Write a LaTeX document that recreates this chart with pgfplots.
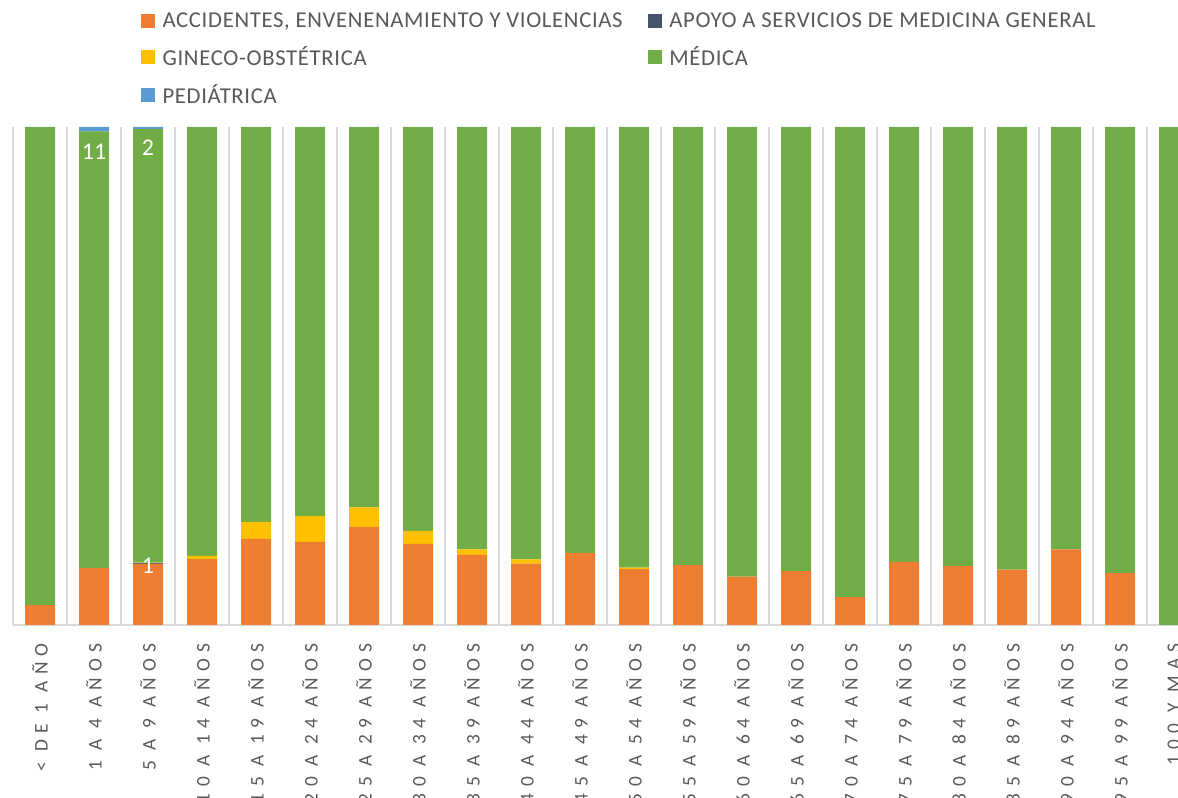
\documentclass[border=0pt]{standalone}
\usepackage{pgfplots}
\usepackage{pgfplotstable}
\pgfplotsset{compat=1.18}
\usepackage{fontspec}
\setmainfont{Carlito}
\newfontfamily\spaced[LetterSpace=33]{Carlito}
\newfontfamily\legfont[LetterSpace=3]{Carlito}
\definecolor{cacc}{HTML}{ED7D31}
\definecolor{capo}{HTML}{44546A}
\definecolor{cgin}{HTML}{FFC000}
\definecolor{cmed}{HTML}{70AD47}
\definecolor{cped}{HTML}{5B9BD5}
\definecolor{cgrid}{HTML}{D9D9D9}
\definecolor{ctxt}{HTML}{595959}
\pgfplotstableread{
x O A G M P
0 0.040 0 0 0.960 0
1 0.114 0 0 0.877 0.009
2 0.123 0.002 0 0.871 0.004
3 0.133 0 0.006 0.861 0
4 0.173 0 0.034 0.793 0
5 0.167 0 0.052 0.781 0
6 0.197 0 0.039 0.764 0
7 0.163 0 0.026 0.811 0
8 0.141 0 0.011 0.848 0
9 0.123 0 0.009 0.868 0
10 0.145 0 0 0.855 0
11 0.112 0 0.003 0.885 0
12 0.120 0 0 0.880 0
13 0.097 0 0 0.903 0
14 0.108 0 0 0.892 0
15 0.056 0 0 0.944 0
16 0.127 0 0 0.873 0
17 0.118 0 0 0.882 0
18 0.111 0 0 0.889 0
19 0.152 0 0 0.848 0
20 0.104 0 0 0.896 0
21 0 0 0 1.000 0
}\data
\begin{document}
\begin{tikzpicture}
\begin{axis}[
  scale only axis,
  width=873.75pt, height=373.5pt,
  ybar stacked, bar width=22.5pt,
  xmin=-0.5, xmax=21.074, ymin=0, ymax=1,
  axis y line=none,
  axis x line*=bottom,
  x axis line style={cgrid, line width=1.1pt},
  xtick={0,...,21},
  xticklabels={{< DE 1 AÑO},{1 A 4 AÑOS},{5 A 9 AÑOS},{10 A 14 AÑOS},{15 A 19 AÑOS},{20 A 24 AÑOS},{25 A 29 AÑOS},{30 A 34 AÑOS},{35 A 39 AÑOS},{40 A 44 AÑOS},{45 A 49 AÑOS},{50 A 54 AÑOS},{55 A 59 AÑOS},{60 A 64 AÑOS},{65 A 69 AÑOS},{70 A 74 AÑOS},{75 A 79 AÑOS},{80 A 84 AÑOS},{85 A 89 AÑOS},{90 A 94 AÑOS},{95 A 99 AÑOS},{100 Y MAS}},
  xticklabel style={rotate=90, anchor=east, inner sep=0pt, font=\spaced\fontsize{14.5pt}{16pt}\selectfont, text=ctxt},
  xticklabel shift=13.5pt,
  major tick length=0pt, minor tick length=0pt,
  minor xtick={-0.5,0.5,...,20.5},
  xminorgrids,
  minor grid style={cgrid, line width=1.1pt},
  ytick=\empty,
  legend columns=2,
  legend cell align=left,
  legend image code/.code={\fill[#1] (0pt,-5.25pt) rectangle (10.5pt,5.25pt);},
  legend style={draw=none, fill=none, at={(0,1)}, anchor=north west,
    xshift=96pt, yshift=88pt, inner sep=0pt,
    font=\legfont\fontsize{17pt}{19pt}\selectfont, text=ctxt,
    row sep=8.8pt,
    /tikz/every odd column/.append style={column sep=3.5pt},
    /tikz/every even column/.append style={column sep=17pt}},
]
\addplot[fill=cacc, draw=none] table[x=x, y=O] {\data};
\addplot[fill=capo, draw=none] table[x=x, y=A] {\data};
\addplot[fill=cgin, draw=none] table[x=x, y=G] {\data};
\addplot[fill=cmed, draw=none] table[x=x, y=M] {\data};
\addplot[fill=cped, draw=none] table[x=x, y=P] {\data};
\legend{{ACCIDENTES, ENVENENAMIENTO Y VIOLENCIAS}, {APOYO A SERVICIOS DE MEDICINA GENERAL}, {GINECO-OBSTÉTRICA}, {MÉDICA}, {PEDIÁTRICA}}
\coordinate (o) at (rel axis cs:0,0);
\coordinate (l1) at (axis cs:1,0.951);
\coordinate (l2) at (axis cs:2,0.959);
\coordinate (l3) at (axis cs:2,0.118);
\end{axis}
\node[text=white, font=\fontsize{18pt}{20pt}\selectfont] at (l1) {11};
\node[text=white, font=\fontsize{18pt}{20pt}\selectfont] at (l2) {2};
\node[text=white, font=\fontsize{18pt}{20pt}\selectfont] at (l3) {1};
\pgfresetboundingbox
\useasboundingbox (o) ++(-9.75pt,-129.75pt) rectangle ++(883.5pt,598.5pt);
\end{tikzpicture}
\end{document}
